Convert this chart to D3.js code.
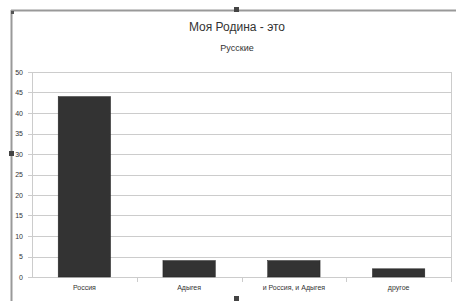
<!DOCTYPE html>
<meta charset="utf-8">
<style>
html, body { margin: 0; overflow: hidden; background: #fff; }
text { font-family: "Liberation Sans", Arial, sans-serif; fill: #333; }
</style>
<body>
<script src="https://d3js.org/d3.v7.min.js"></script>
<script>

var width = 456, height = 301;

var categories = ["Россия", "Адыгея", "и Россия, и Адыгея", "другое"];
var values = [44, 4, 4, 2];
var yTicks = [0, 5, 10, 15, 20, 25, 30, 35, 40, 45, 50];
var title = "Моя Родина - это";
var subtitle = "Русские";

var plotLeft = 32, plotRight = 451, plotTop = 72, plotBottom = 277;

var svg = d3.select("body").append("svg")
  .attr("width", width)
  .attr("height", height);

// chart frame
svg.append("line").attr("x1", 11).attr("y1", 10.5).attr("x2", 456).attr("y2", 10.5)
  .style("stroke", "#999").style("stroke-width", 2);
svg.append("line").attr("x1", 11.5).attr("y1", 10).attr("x2", 11.5).attr("y2", 301)
  .style("stroke", "#999").style("stroke-width", 2);
svg.append("rect").attr("x", 234).attr("y", 7).attr("width", 5).attr("height", 5).style("fill", "#444");
svg.append("rect").attr("x", 9).attr("y", 151).attr("width", 5).attr("height", 5).style("fill", "#444");
svg.append("rect").attr("x", 234).attr("y", 296).attr("width", 5).attr("height", 5).style("fill", "#444");
svg.append("rect").attr("x", 11).attr("y", 11).attr("width", 3).attr("height", 3).style("fill", "#555");

var x = d3.scaleBand().domain(categories).range([plotLeft, plotRight]).paddingInner(0).paddingOuter(0);
var y = d3.scaleLinear().domain([0, 50]).range([plotBottom, plotTop]);

// plot border
svg.append("rect")
  .attr("x", plotLeft + 0.5).attr("y", plotTop + 0.5)
  .attr("width", plotRight - plotLeft).attr("height", plotBottom - plotTop)
  .style("fill", "none").style("stroke", "#ccc");

// grid
svg.selectAll(".grid").data(yTicks).enter().append("line")
  .attr("x1", plotLeft - 4).attr("x2", plotRight)
  .attr("y1", function(d) { return Math.round(y(d)) + 0.5; })
  .attr("y2", function(d) { return Math.round(y(d)) + 0.5; })
  .style("stroke", "#ccc");

svg.selectAll(".ylab").data(yTicks).enter().append("text")
  .attr("x", 23).attr("y", function(d) { return y(d) + 2.5; })
  .attr("text-anchor", "end")
  .attr("font-size", 7)
  .text(function(d) { return d; });

// category ticks
svg.selectAll(".xtick").data(categories).enter().append("line")
  .attr("x1", function(d) { return Math.round(x(d) + x.bandwidth()) + 0.5; })
  .attr("x2", function(d) { return Math.round(x(d) + x.bandwidth()) + 0.5; })
  .attr("y1", plotBottom).attr("y2", plotBottom + 5)
  .style("stroke", "#ccc");

// bars
svg.selectAll(".bar").data(values).enter().append("rect")
  .attr("x", function(d, i) { return x(categories[i]) + x.bandwidth() * 0.25; })
  .attr("width", x.bandwidth() * 0.5)
  .attr("y", function(d) { return y(d); })
  .attr("height", function(d) { return y(0) - y(d); })
  .style("fill", "#333")
  .style("stroke", "#222")
  .style("stroke-width", 0.5);

svg.selectAll(".xlab").data(categories).enter().append("text")
  .attr("x", function(d) { return x(d) + x.bandwidth() / 2; })
  .attr("y", 290)
  .attr("text-anchor", "middle")
  .attr("font-size", 7)
  .text(function(d) { return d; });

svg.append("text").attr("x", 237).attr("y", 31)
  .attr("text-anchor", "middle").attr("font-size", 12).text(title);
svg.append("text").attr("x", 237).attr("y", 51)
  .attr("text-anchor", "middle").attr("font-size", 9).text(subtitle);

</script>
